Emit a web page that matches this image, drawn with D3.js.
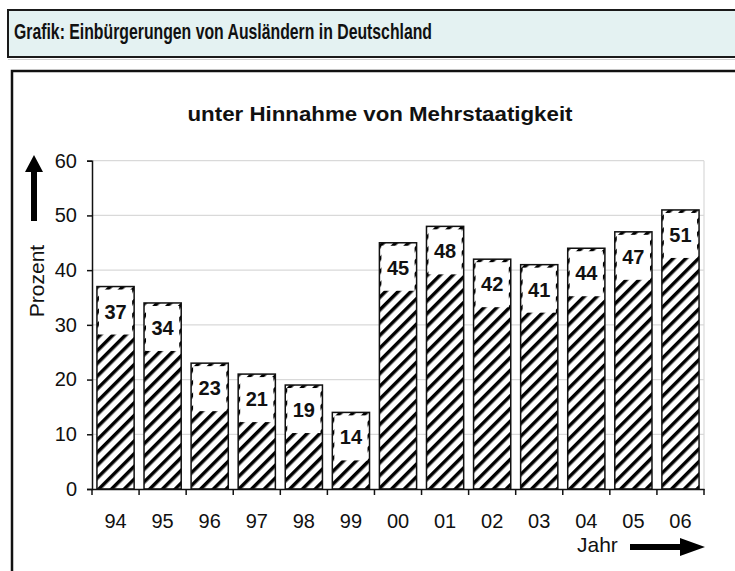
<!DOCTYPE html>
<html>
<head>
<meta charset="utf-8">
<script src="https://cdn.jsdelivr.net/npm/d3@7"></script>
<style>
    body { margin: 0; background: #fff; }
    text { font-family: "Liberation Sans", Arial, sans-serif; }
</style>
</head>
<body>
<script>
// data
var years = ["94", "95", "96", "97", "98", "99", "00", "01", "02", "03", "04", "05", "06"];
var values = [37, 34, 23, 21, 19, 14, 45, 48, 42, 41, 44, 47, 51];
var yTicks = [0, 10, 20, 30, 40, 50, 60];

var W = 735, H = 571;
var plot = {left: 92, right: 704, top: 160.7, bottom: 489};

var svg = d3.select("body").append("svg")
    .attr("width", W)
    .attr("height", H);

// hatch pattern
var defs = svg.append("defs");
var pat = defs.append("pattern")
    .attr("id", "hatch")
    .attr("patternUnits", "userSpaceOnUse")
    .attr("width", 9)
    .attr("height", 9)
    .attr("patternTransform", "rotate(45)");
pat.append("rect").attr("width", 9).attr("height", 9).attr("fill", "#fff");
pat.append("line")
    .attr("x1", 0).attr("y1", 0).attr("x2", 0).attr("y2", 9)
    .attr("stroke", "#000").attr("stroke-width", 7);

// header box
svg.append("rect")
    .attr("x", 8).attr("y", 10)
    .attr("width", W).attr("height", 47)
    .attr("fill", "#e4f2f2")
    .attr("stroke", "#1a1a1a")
    .attr("stroke-width", 2);
svg.append("line")
    .attr("x1", 8).attr("x2", W).attr("y1", 59.5).attr("y2", 59.5)
    .attr("stroke", "#cfcfcf").attr("stroke-width", 1);
svg.append("text")
    .text("Grafik: Einbürgerungen von Ausländern in Deutschland")
    .attr("x", 14).attr("y", 39)
    .attr("textLength", 418)
    .attr("lengthAdjust", "spacingAndGlyphs")
    .style("font-size", "22px")
    .style("font-weight", "bold")
    .attr("fill", "#111");

// main frame
svg.append("path")
    .attr("d", "M12," + (H + 5) + " L12,71 L" + (W + 5) + ",71")
    .attr("fill", "none")
    .attr("stroke", "#111")
    .attr("stroke-width", 2.5);

// title
svg.append("text")
    .text("unter Hinnahme von Mehrstaatigkeit")
    .attr("x", 380).attr("y", 121)
    .attr("text-anchor", "middle")
    .attr("textLength", 385)
    .attr("lengthAdjust", "spacingAndGlyphs")
    .style("font-size", "20px")
    .style("font-weight", "bold")
    .attr("fill", "#111");

var x = d3.scaleBand()
    .domain(years)
    .range([plot.left, plot.right])
    .paddingInner(0.21)
    .paddingOuter(0.105);

var y = d3.scaleLinear()
    .domain([0, 60])
    .range([plot.bottom, plot.top]);

// gridlines
svg.append("g")
    .selectAll("line")
    .data(yTicks.slice(1))
    .enter()
    .append("line")
    .attr("x1", plot.left).attr("x2", plot.right)
    .attr("y1", function(d){ return y(d); })
    .attr("y2", function(d){ return y(d); })
    .attr("stroke", "#d9d9d9")
    .attr("stroke-width", 1.2);

svg.append("line")
    .attr("x1", plot.right).attr("x2", plot.right)
    .attr("y1", plot.top).attr("y2", plot.bottom)
    .attr("stroke", "#d9d9d9")
    .attr("stroke-width", 1.2);

// bars
var bars = svg.append("g")
    .selectAll("g")
    .data(values)
    .enter()
    .append("g");

bars.append("rect")
    .attr("x", function(d, i){ return x(years[i]); })
    .attr("y", function(d){ return y(d); })
    .attr("width", x.bandwidth())
    .attr("height", function(d){ return y(0) - y(d); })
    .attr("fill", "url(#hatch)");

bars.append("rect")
    .attr("x", function(d, i){ return x(years[i]) + 2; })
    .attr("y", function(d){ return y(d) + 3; })
    .attr("width", x.bandwidth() - 4)
    .attr("height", function(d){ return Math.min(45, y(0) - y(d) - 3); })
    .attr("fill", "#fff");

bars.append("rect")
    .attr("x", function(d, i){ return x(years[i]); })
    .attr("y", function(d){ return y(d); })
    .attr("width", x.bandwidth())
    .attr("height", function(d){ return y(0) - y(d); })
    .attr("fill", "none")
    .attr("stroke", "#111")
    .attr("stroke-width", 1.5);

bars.append("text")
    .text(function(d){ return d; })
    .attr("x", function(d, i){ return x(years[i]) + x.bandwidth() / 2; })
    .attr("y", function(d){ return y(d) + 32; })
    .attr("text-anchor", "middle")
    .style("font-size", "20px")
    .style("font-weight", "bold")
    .attr("fill", "#111");

// y axis
var yAxis = d3.axisLeft(y)
    .tickValues(yTicks)
    .tickSize(5)
    .tickPadding(10);
var gy = svg.append("g")
    .attr("transform", "translate(" + plot.left + ",0)")
    .call(yAxis);
gy.select(".domain").attr("stroke", "#111").attr("stroke-width", 1.5);
gy.selectAll(".tick line").attr("stroke", "#111").attr("stroke-width", 1.5);
gy.selectAll(".tick text")
    .style("font-size", "20px")
    .attr("fill", "#111");

// x axis, ticks on band edges
var xAxis = d3.axisBottom(x).tickSize(0).tickPadding(25);
var gx = svg.append("g")
    .attr("transform", "translate(0," + plot.bottom + ")")
    .call(xAxis);
gx.select(".domain").attr("stroke", "#111").attr("stroke-width", 1.5);
gx.selectAll(".tick text")
    .style("font-size", "20px")
    .attr("fill", "#111");
var edges = d3.range(years.length + 1).map(function(i){
    return plot.left + i * (plot.right - plot.left) / years.length;
});
gx.selectAll(".edge")
    .data(edges)
    .enter()
    .append("line")
    .attr("x1", function(d){ return d; })
    .attr("x2", function(d){ return d; })
    .attr("y1", 0).attr("y2", 6)
    .attr("stroke", "#111")
    .attr("stroke-width", 1.5);

// y label with arrow
svg.append("text")
    .text("Prozent")
    .attr("transform", "translate(44,281) rotate(-90)")
    .attr("text-anchor", "middle")
    .style("font-size", "21px")
    .attr("fill", "#111");
svg.append("path")
    .attr("d", "M31,221 L31,172 L25,172 L34,155 L43,172 L37,172 L37,221 Z")
    .attr("fill", "#000");

// x label with arrow
svg.append("text")
    .text("Jahr")
    .attr("x", 577).attr("y", 552)
    .style("font-size", "21px")
    .attr("fill", "#111");
svg.append("path")
    .attr("d", "M630,544 L680,544 L680,538 L705,547 L680,556 L680,550 L630,550 Z")
    .attr("fill", "#000");
</script>
</body>
</html>
